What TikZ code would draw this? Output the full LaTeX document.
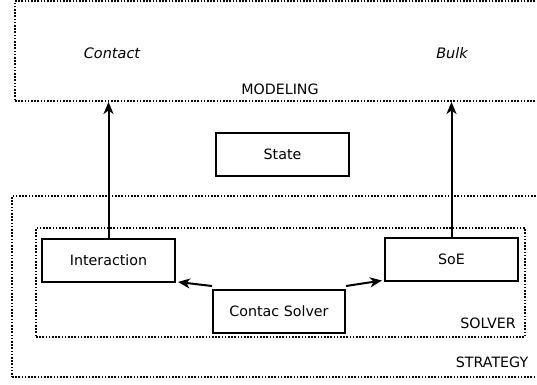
\documentclass[tikz,border=0pt]{standalone}
\usepackage{fontspec}
\setmainfont{DejaVu Sans}
\usetikzlibrary{arrows.meta}
\begin{document}
\begin{tikzpicture}[x=1bp,y=-1bp,
  every node/.style={font=\fontsize{14.3}{16}\selectfont},
  frame/.style={draw, line width=1.9bp, dash pattern=on 1.6bp off 1.6bp, inner sep=0pt},
  blk/.style={draw, line width=2bp, minimum width=133bp, minimum height=43bp, inner sep=0pt},
  lbl/.style={inner sep=0pt},
  arr/.style={line width=2bp, -{Stealth[length=12bp,width=10bp,inset=3.5bp]}}
]
\useasboundingbox (0,0) rectangle (537,384);
\clip (0,0) rectangle (537,384);
\fill[white] (0,0) rectangle (537,384);
% frames
\node[frame, minimum width=530bp, minimum height=100bp] (modeling) at (280,51) {};
\node[frame, minimum width=533bp, minimum height=181bp] (strategy) at (278.5,286.5) {};
\node[frame, minimum width=489bp, minimum height=109bp] (solver) at (280.5,282.5) {};
% labels
\node[lbl, font=\fontsize{14.5}{16}\selectfont\itshape] (contact) at (112,53) {Contact};
\node[lbl, font=\fontsize{14.5}{16}\selectfont\itshape] (bulk) at (452,53) {Bulk};
\node[lbl] (modlbl) at (280,89) {MODELING};
\node[lbl] (sollbl) at (488,323) {SOLVER};
\node[lbl] (strlbl) at (492,362) {STRATEGY};
% blocks
\node[blk] (state) at (282.5,154) {State};
\node[blk] (inter) at (108.5,260.5) {Interaction};
\node[blk] (soe) at (451.5,259) {SoE};
\node[blk, minimum width=132bp] (cs) at (279,311.5) {Contac Solver};
% connectors
\draw[arr] (inter.north) -- (inter.north |- modeling.south);
\draw[arr] (soe.north) -- (soe.north |- modeling.south);
\draw[arr] ([yshift=3bp]cs.north west) -- ([xshift=2bp,yshift=1bp]inter.south east);
\draw[arr] ([yshift=3bp]cs.north east) -- ([xshift=-2bp,yshift=1bp]soe.south west);
\end{tikzpicture}
\end{document}
